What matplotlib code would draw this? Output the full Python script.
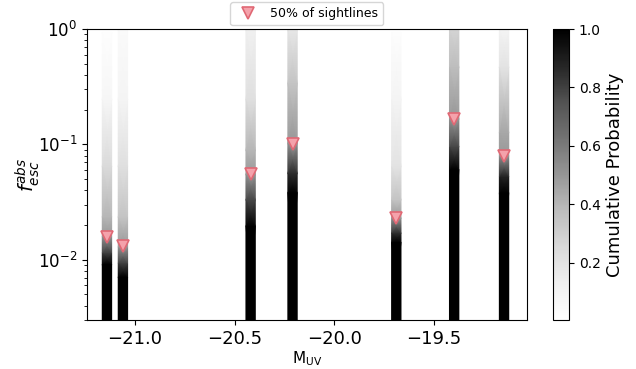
import numpy as np
import matplotlib
matplotlib.use('Agg')
import matplotlib.pyplot as plt
from matplotlib.lines import Line2D

# magnitudes of the galaxies (one column each)
muv = [-21.14, -21.06, -20.42, -20.21, -19.69, -19.40, -19.15]
# median escape fraction (50% of sightlines)
fesc_50 = [0.0158, 0.0132, 0.0548, 0.1016, 0.0228, 0.1675, 0.0795]

# cumulative probability read along each column, knots in log10(f_esc)
logf_1 = [-2.6, -2.04, -1.94, -1.80, -1.63, -1.19, -0.61, -0.03]
prob_1 = [1.0, 1.0, 0.80, 0.50, 0.40, 0.25, 0.08, 0.02]
logf_2 = [-2.6, -2.15, -2.03, -1.89, -1.63, -1.19, -0.61, 0.0]
prob_2 = [1.0, 1.0, 0.80, 0.50, 0.35, 0.22, 0.10, 0.05]
logf_3 = [-2.6, -1.71, -1.48, -1.26, -1.05, -0.61, 0.0]
prob_3 = [1.0, 1.0, 0.78, 0.50, 0.40, 0.22, 0.13]
logf_4 = [-2.6, -1.42, -1.25, -0.99, -0.47, 0.0]
prob_4 = [1.0, 1.0, 0.85, 0.50, 0.35, 0.18]
logf_5 = [-2.6, -1.85, -1.77, -1.64, -1.48, -1.19, -0.61, -0.03]
prob_5 = [1.0, 1.0, 0.85, 0.50, 0.35, 0.20, 0.10, 0.02]
logf_6 = [-2.6, -1.22, -1.02, -0.78, -0.33, 0.0]
prob_6 = [1.0, 1.0, 0.78, 0.50, 0.38, 0.28]
logf_7 = [-2.6, -1.42, -1.28, -1.10, -0.90, -0.33, 0.0]
prob_7 = [1.0, 1.0, 0.88, 0.50, 0.45, 0.20, 0.10]

logf_all = [logf_1, logf_2, logf_3, logf_4, logf_5, logf_6, logf_7]
prob_all = [prob_1, prob_2, prob_3, prob_4, prob_5, prob_6, prob_7]

width = 0.047
vmin, vmax = 0.004, 1.0

fig = plt.figure(figsize=(6.36, 3.69), dpi=100)
ax = fig.add_axes([0.1368, 0.1328, 0.6918, 0.7886])
cax = fig.add_axes([0.8695, 0.1328, 0.0252, 0.7886])

for m, lf, p in zip(muv, logf_all, prob_all):
    X = np.array([m - width / 2, m + width / 2])
    Y = 10 ** np.array(lf)
    C = np.column_stack([p, p])
    XX, YY = np.meshgrid(X, Y)
    pc = ax.pcolormesh(XX, YY, C, shading='gouraud', cmap='Greys',
                       vmin=vmin, vmax=vmax, rasterized=True)

ax.plot(muv, fesc_50, linestyle='none', marker='v', markersize=8,
        markerfacecolor='#f4a2ab', markeredgecolor='#e06874', markeredgewidth=1.2)

ax.set_yscale('log')
ax.set_xlim(-21.24, -19.035)
ax.set_ylim(0.003, 1.0)
ax.set_xticks([-21.0, -20.5, -20.0, -19.5])
ax.tick_params(axis='x', which='major', labelsize=13)
ax.tick_params(axis='y', which='major', labelsize=12)
ax.set_xlabel(r'$\rm M_{UV}$', fontsize=11, labelpad=1)
ax.set_ylabel(r'$f_{esc}^{abs}$', fontsize=14, labelpad=-3)

handle = Line2D([], [], linestyle='none', marker='v', markersize=8,
                markerfacecolor='#f4a2ab', markeredgecolor='#e06874',
                markeredgewidth=1.2)
ax.legend([handle], ['50% of sightlines'], loc='lower center',
          bbox_to_anchor=(0.5, 1.0), fontsize=9, borderaxespad=0.3)

cb = fig.colorbar(pc, cax=cax)
cb.set_ticks([0.2, 0.4, 0.6, 0.8, 1.0])
cb.ax.tick_params(labelsize=10)
cb.set_label('Cumulative Probability', fontsize=13)

fig.savefig('out.png', dpi=100)
